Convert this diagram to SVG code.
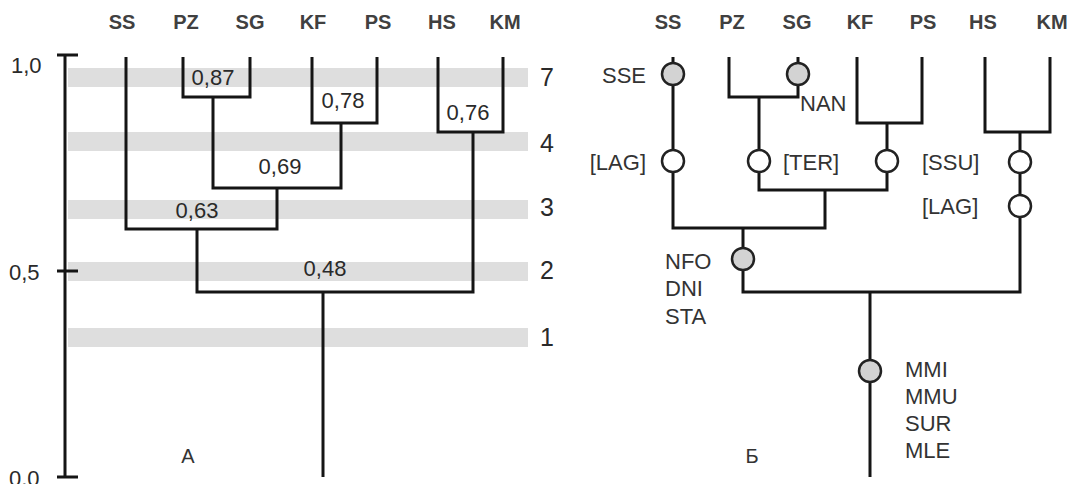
<svg xmlns="http://www.w3.org/2000/svg" width="1076" height="484" viewBox="0 0 1076 484">
<style>
.bg{fill:#ffffff}
.band{fill:#dedede}
.ln{fill:none;stroke:#151515;stroke-width:3;stroke-linejoin:miter;stroke-linecap:butt}
.t{font-family:"Liberation Sans",Arial,sans-serif;fill:#2a2a2a}
.col{font-size:20px;font-weight:bold;fill:#404040;text-anchor:middle}
.num{font-size:22px;text-anchor:middle}
.ax{font-size:22px}
.bn{font-size:25px;text-anchor:middle}
.lb{font-size:22px;fill:#333}
.pl{font-size:20px;fill:#333;text-anchor:middle}
.cg{fill:#d3d3d3;stroke:#222;stroke-width:2.5}
.cw{fill:#ffffff;stroke:#222;stroke-width:2.5}
</style>
<rect class="bg" x="0" y="0" width="1076" height="484"/>

<!-- Panel A -->
<g id="bands">
<rect class="band" x="68" y="68" width="460" height="19"/>
<rect class="band" x="68" y="132" width="460" height="19"/>
<rect class="band" x="68" y="200" width="460" height="19"/>
<rect class="band" x="68" y="262" width="460" height="19"/>
<rect class="band" x="68" y="328" width="460" height="19"/>
<text class="t bn" x="547" y="86">7</text>
<text class="t bn" x="547" y="152">4</text>
<text class="t bn" x="547" y="216">3</text>
<text class="t bn" x="547" y="279">2</text>
<text class="t bn" x="547" y="346">1</text>
</g>

<g id="axis">
<path class="ln" d="M65 55 V477 M57 55 H78 M57 271 H78 M57 477 H78"/>
<text class="t ax" x="11" y="73">1,0</text>
<text class="t ax" x="9" y="280">0,5</text>
<text class="t ax" x="9" y="486">0,0</text>
</g>

<g id="a-leaves">
<text class="t col" x="122" y="29">SS</text>
<text class="t col" x="186" y="29">PZ</text>
<text class="t col" x="250" y="29">SG</text>
<text class="t col" x="313" y="29">KF</text>
<text class="t col" x="378" y="29">PS</text>
<text class="t col" x="442" y="29">HS</text>
<text class="t col" x="505" y="29">KM</text>
</g>

<g id="a-connectors">
<path class="ln" d="M183 57 V97 H250 V57"/>
<path class="ln" d="M312 57 V123 H377 V57"/>
<path class="ln" d="M438 57 V132 H503 V57"/>
<path class="ln" d="M213 97 V188 H341 V123"/>
<path class="ln" d="M126 57 V229 H277 V188"/>
<path class="ln" d="M197 229 V292 H473 V132"/>
<path class="ln" d="M323 292 V477"/>
</g>

<g id="a-values">
<text class="t num" x="213" y="85">0,87</text>
<text class="t num" x="343" y="108">0,78</text>
<text class="t num" x="468" y="120">0,76</text>
<text class="t num" x="280" y="174">0,69</text>
<text class="t num" x="197" y="218">0,63</text>
<text class="t num" x="325" y="276">0,48</text>
</g>
<text id="label-a" class="t pl" x="188" y="463">А</text>

<!-- Panel B -->
<g id="b-leaves">
<text class="t col" x="668" y="29">SS</text>
<text class="t col" x="732" y="29">PZ</text>
<text class="t col" x="797" y="29">SG</text>
<text class="t col" x="860" y="29">KF</text>
<text class="t col" x="923" y="29">PS</text>
<text class="t col" x="983" y="29">HS</text>
<text class="t col" x="1052" y="29">KM</text>
</g>

<g id="b-connectors">
<path class="ln" d="M673 57 V228 H825 V190"/>
<path class="ln" d="M729 57 V97 H798 V57"/>
<path class="ln" d="M759 97 V190 H887 V123"/>
<path class="ln" d="M857 57 V123 H922 V57"/>
<path class="ln" d="M985 57 V132 H1050 V57"/>
<path class="ln" d="M743 228 V292 H1020 V132"/>
<path class="ln" d="M870 292 V477"/>
</g>

<g id="node-sse"><circle class="cg" cx="673" cy="74" r="11"/><text class="t lb" x="646" y="83" text-anchor="end">SSE</text></g>
<g id="node-lag1"><circle class="cw" cx="673" cy="161" r="11"/><text class="t lb" x="646" y="170" text-anchor="end">[LAG]</text></g>
<g id="node-nan"><circle class="cg" cx="798" cy="74" r="11"/><text class="t lb" x="800" y="111">NAN</text></g>
<g id="node-ter"><circle class="cw" cx="759" cy="161" r="11"/><text class="t lb" x="783" y="170">[TER]</text></g>
<g id="node-kfps"><circle class="cw" cx="887" cy="161" r="11"/></g>
<g id="node-ssu"><circle class="cw" cx="1020" cy="162" r="11"/><text class="t lb" x="922" y="170">[SSU]</text></g>
<g id="node-lag2"><circle class="cw" cx="1020" cy="206" r="11"/><text class="t lb" x="922" y="214">[LAG]</text></g>
<g id="node-nfo"><circle class="cg" cx="743" cy="259" r="11"/>
<text class="t lb" x="665" y="269">NFO</text>
<text class="t lb" x="665" y="296">DNI</text>
<text class="t lb" x="665" y="324">STA</text></g>
<g id="node-root"><circle class="cg" cx="870" cy="371" r="11"/>
<text class="t lb" x="905" y="377">MMI</text>
<text class="t lb" x="905" y="404">MMU</text>
<text class="t lb" x="905" y="431">SUR</text>
<text class="t lb" x="905" y="458">MLE</text></g>
<text id="label-b" class="t pl" x="752" y="463">Б</text>
</svg>
